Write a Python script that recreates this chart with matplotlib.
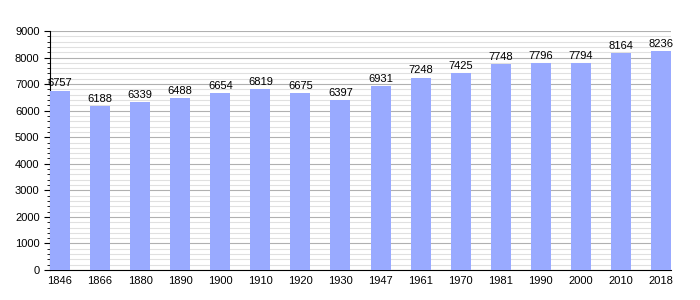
import matplotlib
matplotlib.use("Agg")
import matplotlib.pyplot as plt
from matplotlib.ticker import MultipleLocator

years = ["1846", "1866", "1880", "1890", "1900", "1910", "1920", "1930",
         "1947", "1961", "1970", "1981", "1990", "2000", "2010", "2018"]
population = [6757, 6188, 6339, 6488, 6654, 6819, 6675, 6397,
              6931, 7248, 7425, 7748, 7796, 7794, 8164, 8236]

plt.rcParams["font.family"] = ["Liberation Sans", "DejaVu Sans"]

fig = plt.figure(figsize=(7, 3), dpi=100)
ax = fig.add_axes([0.0714, 0.1, 0.8872, 0.7967])

x = range(len(years))
ax.bar(x, population, width=0.5, color="#99aaff", zorder=3)
for i, v in zip(x, population):
    ax.text(i, v + 80, str(v), ha="center", va="bottom", fontsize=8, zorder=4)

ax.set_xlim(-0.25, len(years) - 0.75)
ax.set_ylim(0, 9000)
ax.set_xticks(list(x))
ax.set_xticklabels(years)
ax.yaxis.set_major_locator(MultipleLocator(1000))
ax.yaxis.set_minor_locator(MultipleLocator(200))
ax.grid(axis="y", which="major", color="#b0b0b0", linewidth=0.8, zorder=0)
ax.grid(axis="y", which="minor", color="#e0e0e0", linewidth=0.8, zorder=0)
ax.tick_params(axis="x", length=0, labelsize=8, pad=4)
ax.tick_params(axis="y", which="major", length=4, labelsize=8)
ax.tick_params(axis="y", which="minor", length=2)
for s in ["top", "right"]:
    ax.spines[s].set_visible(False)

fig.savefig("out.png", dpi=100)
